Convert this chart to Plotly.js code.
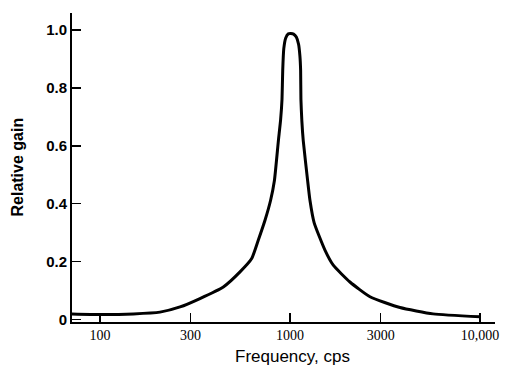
<!DOCTYPE html>
<html>
<head>
<meta charset="utf-8">
<script src="https://cdn.plot.ly/plotly-3.0.1.min.js"></script>
<style>html,body{margin:0;padding:0;background:#fff;}#chart{width:505px;height:371px;}</style>
</head>
<body>
<div id="chart"></div>
<script>
const frequency = [71, 100, 150, 207, 264, 336, 446, 546, 629, 681, 739, 791, 828, 869, 893, 908, 916, 928, 950, 980, 1010, 1045, 1080, 1110, 1128, 1138, 1142, 1155, 1175, 1239, 1274, 1340, 1528, 1690, 2069, 2637, 3793, 5665, 10000];
const gain      = [0.020, 0.018, 0.020, 0.026, 0.044, 0.073, 0.113, 0.165, 0.211, 0.274, 0.343, 0.412, 0.479, 0.617, 0.690, 0.760, 0.860, 0.935, 0.972, 0.986, 0.987, 0.985, 0.975, 0.950, 0.910, 0.860, 0.760, 0.686, 0.617, 0.479, 0.412, 0.335, 0.240, 0.188, 0.130, 0.079, 0.042, 0.020, 0.010];
const xTickVals = [100, 300, 1000, 3000, 10000];
const xTickText = ['100', '300', '1000', '3000', '10,000'];
const yTickVals = [0, 0.2, 0.4, 0.6, 0.8, 1.0];
const yTickText = ['0', '0.2', '0.4', '0.6', '0.8', '1.0'];

const trace = {
  x: frequency, y: gain, type: 'scatter', mode: 'lines',
  line: {color: '#000', width: 3, shape: 'spline', smoothing: 0.5},
  hoverinfo: 'skip'
};

const layout = {
  width: 505, height: 371,
  margin: {l: 72, r: 10, t: 13, b: 49},
  paper_bgcolor: '#fff', plot_bgcolor: '#fff',
  showlegend: false,
  xaxis: {
    type: 'log', range: [1.853, 4.079],
    tickvals: xTickVals, ticktext: xTickText,
    ticks: 'inside', ticklen: 9, tickwidth: 1.5, tickcolor: '#000',
    showline: true, linecolor: '#000', linewidth: 1.5,
    showgrid: false, zeroline: false,
    tickfont: {family: 'Liberation Serif, DejaVu Serif, serif', size: 14, color: '#000'}
  },
  yaxis: {
    range: [-0.008, 1.058],
    tickvals: yTickVals, ticktext: yTickText,
    ticks: 'inside', ticklen: 9, tickwidth: 1.5, tickcolor: '#000',
    showline: true, linecolor: '#000', linewidth: 2,
    showgrid: false, zeroline: false,
    tickfont: {family: 'Liberation Sans, Arial, sans-serif', size: 15, color: '#000', weight: 'bold'}
  },
  annotations: [
    {text: 'Frequency, cps', xref: 'paper', yref: 'paper', x: 0.522, y: -0.113,
     xanchor: 'center', yanchor: 'middle', showarrow: false,
     font: {family: 'Liberation Sans, Arial, sans-serif', size: 17, color: '#000'}},
    {text: 'Relative gain', xref: 'paper', yref: 'paper', x: -0.13, y: 0.5,
     xanchor: 'center', yanchor: 'middle', showarrow: false, textangle: -90,
     font: {family: 'Liberation Sans, Arial, sans-serif', size: 16, color: '#000', weight: 'bold'}}
  ]
};

Plotly.newPlot('chart', [trace], layout, {displayModeBar: false, staticPlot: true});
</script>
</body>
</html>
